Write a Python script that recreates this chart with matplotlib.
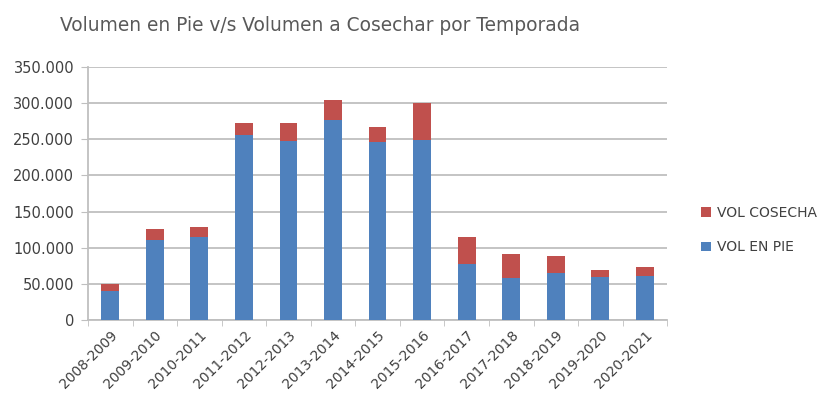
import matplotlib
matplotlib.use('Agg')
import matplotlib.pyplot as plt
import numpy as np
from matplotlib.ticker import FuncFormatter

temporadas = ['2008-2009', '2009-2010', '2010-2011', '2011-2012', '2012-2013',
              '2013-2014', '2014-2015', '2015-2016', '2016-2017', '2017-2018',
              '2018-2019', '2019-2020', '2020-2021']
vol_en_pie = [40000, 110000, 115000, 256000, 248000, 276000, 246000,
              249000, 78000, 58000, 65000, 59000, 61000]
vol_total = [50000, 126000, 128000, 272000, 272000, 305000, 267000,
             300000, 115000, 91000, 88000, 69000, 73000]
vol_cosecha = [t - p for t, p in zip(vol_total, vol_en_pie)]

plt.rcParams['font.family'] = ['DejaVu Sans']
txt = '#404040'
grid = '#bfbfbf'

fig = plt.figure(figsize=(8.18, 4.0), dpi=100)
ax = fig.add_axes([0.1076, 0.2, 0.708, 0.6325])

x = np.arange(len(temporadas))
ax.bar(x, vol_en_pie, width=0.4, color='#4F81BD', label='VOL EN PIE', zorder=3)
ax.bar(x, vol_cosecha, width=0.4, bottom=vol_en_pie, color='#C0504D',
       label='VOL COSECHA', zorder=3)

ax.set_xlim(-0.5, len(temporadas) - 0.5)
ax.set_ylim(0, 350000)
ax.set_yticks(np.arange(0, 350001, 50000))
ax.yaxis.set_major_formatter(FuncFormatter(lambda v, p: f'{int(v):,}'.replace(',', '.')))
ax.grid(axis='y', color=grid, linewidth=1.3, zorder=0)

ax.set_xticks(x)
ax.set_xticklabels(temporadas, rotation=45, ha='right', rotation_mode='anchor')
ax.set_xticks(np.arange(-0.5, len(temporadas)), minor=True)
ax.tick_params(axis='x', which='major', length=0, pad=6, labelsize=10, labelcolor=txt)
ax.tick_params(axis='x', which='minor', length=4, color=grid)
ax.tick_params(axis='y', length=5, color=grid, labelsize=10.5, labelcolor=txt, pad=5)

for s in ['top', 'right']:
    ax.spines[s].set_visible(False)
for s in ['left', 'bottom']:
    ax.spines[s].set_color(grid)
    ax.spines[s].set_linewidth(1.3)

fig.text(0.073, 0.937, 'Volumen en Pie v/s Volumen a Cosechar por Temporada',
         fontsize=13.4, color='#595959', va='center')

h, l = ax.get_legend_handles_labels()
fig.legend(h[::-1], l[::-1], loc='center left', bbox_to_anchor=(0.842, 0.425),
           frameon=False, fontsize=10, labelcolor=txt, handlelength=0.7,
           handleheight=0.7, handletextpad=0.4, labelspacing=1.5)

fig.savefig('out.png', dpi=100)
